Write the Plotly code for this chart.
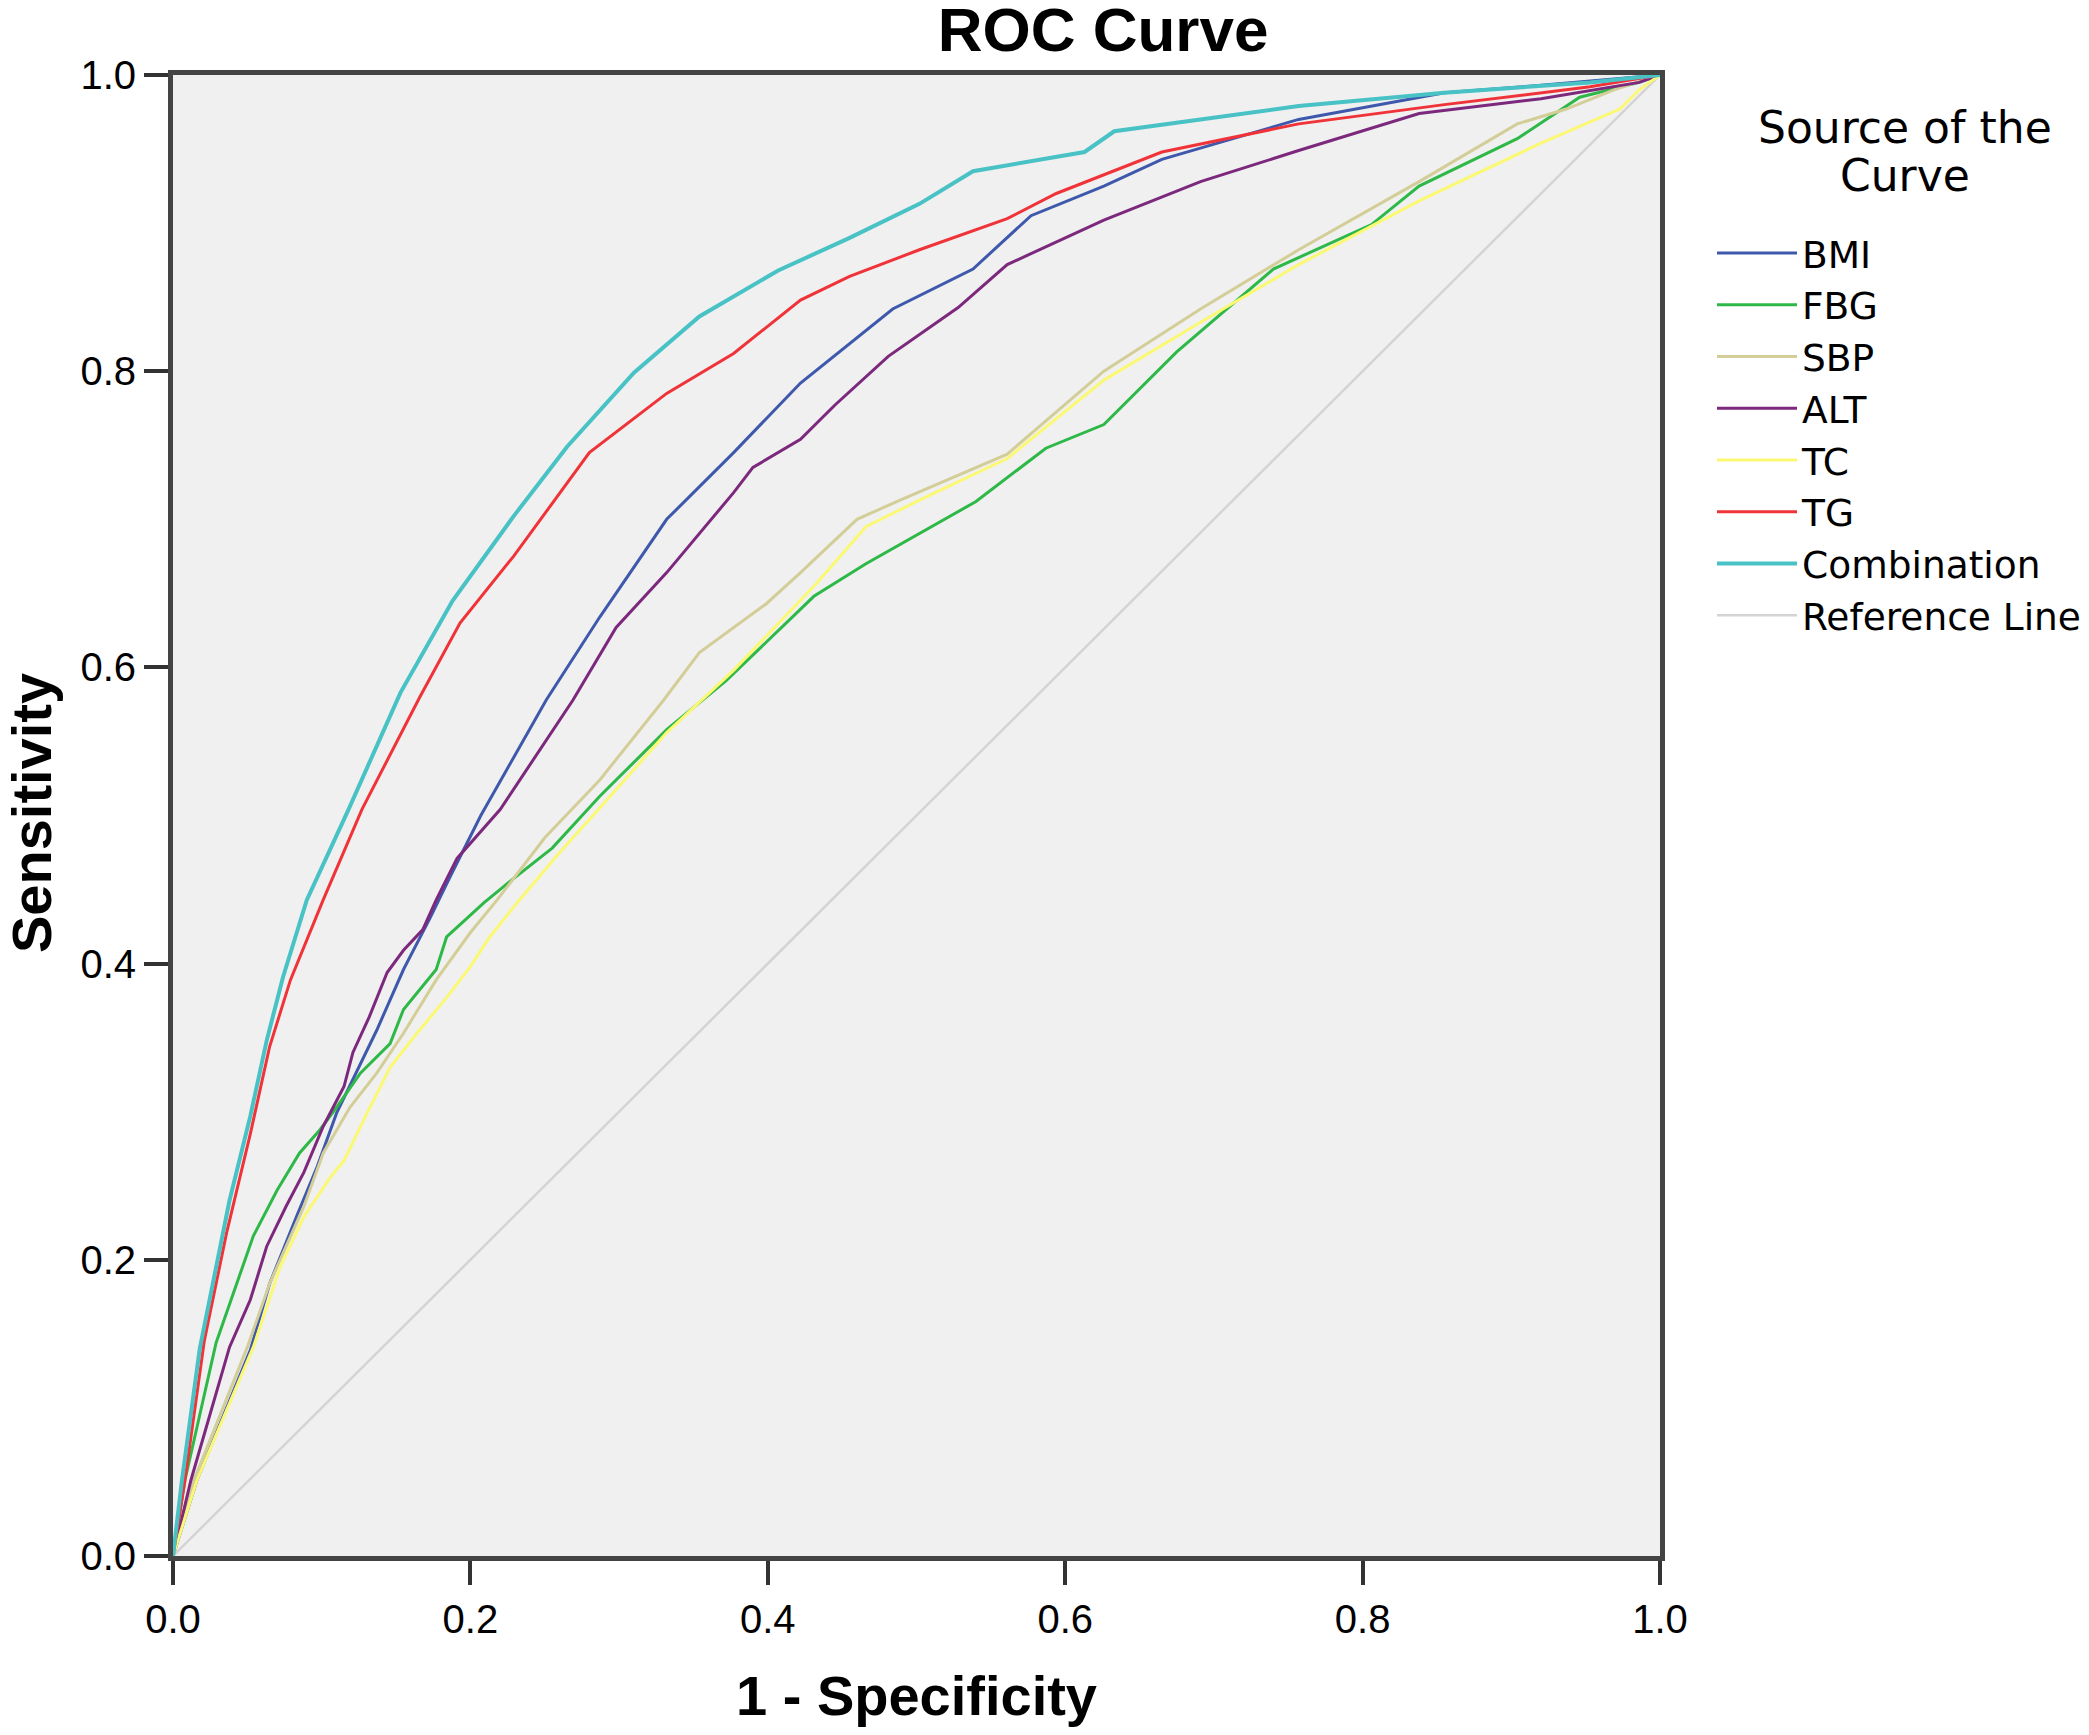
import plotly.graph_objects as go

# ROC points (1 - specificity, sensitivity)
bmi_fpr = [0, 0.016, 0.052, 0.065, 0.083, 0.097, 0.110, 0.124, 0.137, 0.155, 0.173, 0.187, 0.207,
           0.251, 0.287, 0.332, 0.377, 0.422, 0.484, 0.538, 0.577, 0.626, 0.665, 0.757, 0.855, 0.920, 1.0]
bmi_tpr = [0, 0.051, 0.139, 0.184, 0.229, 0.263, 0.299, 0.328, 0.355, 0.396, 0.431, 0.460, 0.500,
           0.578, 0.634, 0.700, 0.745, 0.792, 0.842, 0.869, 0.905, 0.925, 0.943, 0.970, 0.988, 0.993, 1.0]

fbg_fpr = [0, 0.008, 0.029, 0.043, 0.054, 0.070, 0.085, 0.099, 0.110, 0.126, 0.146, 0.155, 0.177,
           0.184, 0.209, 0.226, 0.255, 0.287, 0.332, 0.372, 0.431, 0.466, 0.540, 0.587, 0.626, 0.675,
           0.740, 0.806, 0.838, 0.904, 0.946, 0.986, 1.0]
fbg_tpr = [0, 0.051, 0.144, 0.184, 0.216, 0.247, 0.272, 0.288, 0.303, 0.326, 0.346, 0.369, 0.396,
           0.418, 0.441, 0.455, 0.478, 0.513, 0.558, 0.591, 0.648, 0.670, 0.712, 0.748, 0.764, 0.813,
           0.869, 0.899, 0.925, 0.957, 0.985, 0.995, 1.0]

sbp_fpr = [0, 0.014, 0.050, 0.065, 0.088, 0.101, 0.119, 0.137, 0.155, 0.177, 0.200, 0.218, 0.250,
           0.287, 0.330, 0.354, 0.399, 0.422, 0.460, 0.489, 0.561, 0.626, 0.691, 0.757, 0.838, 0.904,
           0.937, 0.969, 1.0]
sbp_tpr = [0, 0.051, 0.141, 0.184, 0.236, 0.272, 0.303, 0.326, 0.353, 0.389, 0.421, 0.443, 0.485,
           0.524, 0.578, 0.610, 0.643, 0.664, 0.700, 0.713, 0.744, 0.800, 0.842, 0.882, 0.928, 0.967,
           0.977, 0.990, 1.0]

alt_fpr = [0, 0.012, 0.038, 0.052, 0.063, 0.076, 0.088, 0.101, 0.115, 0.121, 0.132, 0.144, 0.155,
           0.168, 0.177, 0.191, 0.220, 0.269, 0.298, 0.332, 0.377, 0.390, 0.422, 0.445, 0.481, 0.528,
           0.561, 0.626, 0.691, 0.757, 0.838, 0.920, 0.986, 1.0]
alt_tpr = [0, 0.051, 0.141, 0.173, 0.209, 0.236, 0.259, 0.290, 0.317, 0.340, 0.364, 0.394, 0.409,
           0.423, 0.443, 0.471, 0.504, 0.578, 0.627, 0.664, 0.718, 0.735, 0.754, 0.777, 0.810, 0.843,
           0.872, 0.902, 0.928, 0.949, 0.974, 0.984, 0.995, 1.0]

tc_fpr = [0, 0.016, 0.054, 0.072, 0.088, 0.106, 0.115, 0.128, 0.146, 0.164, 0.184, 0.200, 0.213,
          0.233, 0.260, 0.287, 0.332, 0.377, 0.433, 0.466, 0.502, 0.561, 0.626, 0.691, 0.757, 0.838,
          0.920, 0.973, 0.986, 1.0]
tc_tpr = [0, 0.051, 0.141, 0.195, 0.229, 0.256, 0.267, 0.294, 0.330, 0.353, 0.377, 0.398, 0.418,
          0.443, 0.475, 0.505, 0.556, 0.598, 0.657, 0.695, 0.713, 0.741, 0.794, 0.833, 0.872, 0.915,
          0.954, 0.977, 0.990, 1.0]

tg_fpr = [0, 0.008, 0.021, 0.036, 0.052, 0.065, 0.079, 0.101, 0.127, 0.166, 0.193, 0.229, 0.280,
          0.332, 0.377, 0.422, 0.455, 0.502, 0.561, 0.594, 0.665, 0.757, 0.855, 0.953, 1.0]
tg_tpr = [0, 0.051, 0.145, 0.218, 0.285, 0.344, 0.389, 0.443, 0.504, 0.580, 0.630, 0.675, 0.745,
          0.785, 0.812, 0.848, 0.864, 0.882, 0.903, 0.920, 0.948, 0.967, 0.980, 0.992, 1.0]

comb_fpr = [0, 0.006, 0.018, 0.029, 0.038, 0.052, 0.063, 0.074, 0.090, 0.118, 0.153, 0.188, 0.229,
            0.265, 0.310, 0.354, 0.407, 0.455, 0.502, 0.538, 0.613, 0.633, 0.757, 0.855, 0.953, 1.0]
comb_tpr = [0, 0.051, 0.140, 0.195, 0.240, 0.297, 0.348, 0.391, 0.443, 0.504, 0.583, 0.645, 0.702,
            0.749, 0.799, 0.837, 0.868, 0.890, 0.913, 0.935, 0.948, 0.962, 0.979, 0.988, 0.995, 1.0]

ref_x = [0, 1]
ref_y = [0, 1]

tick_vals = [0.0, 0.2, 0.4, 0.6, 0.8, 1.0]
tick_text = ["0.0", "0.2", "0.4", "0.6", "0.8", "1.0"]

legend_title = ["Source of the", "Curve"]

series = [
    ("BMI", bmi_fpr, bmi_tpr, "#3E58AC"),
    ("FBG", fbg_fpr, fbg_tpr, "#2EB848"),
    ("SBP", sbp_fpr, sbp_tpr, "#D3CE97"),
    ("ALT", alt_fpr, alt_tpr, "#7C287D"),
    ("TC", tc_fpr, tc_tpr, "#FBF873"),
    ("TG", tg_fpr, tg_tpr, "#EF3338"),
    ("Combination", comb_fpr, comb_tpr, "#48C2C5"),
]

# page body has an 8px margin, so the figure is a bit smaller than the window
W, H = 2073, 1719
L, R, T, B = 165, 421, 67, 171
plot_w = W - L - R
plot_h = H - T - B

fig = go.Figure()

fig.add_trace(go.Scatter(
    x=ref_x, y=ref_y, mode="lines", name="Reference Line",
    line=dict(color="#D4D4D4", width=2.5), legendrank=1100,
))

for i, (name, xs, ys, color) in enumerate(series):
    fig.add_trace(go.Scatter(
        x=xs, y=ys, mode="lines", name=name,
        line=dict(color=color, width=4 if name == "Combination" else 3),
        legendrank=1000 + i,
    ))

axis_common = dict(
    range=[0, 1],
    tickvals=tick_vals,
    ticktext=tick_text,
    showgrid=False,
    zeroline=False,
    showline=True,
    linecolor="#444444",
    linewidth=5,
    mirror=True,
    ticks="outside",
    ticklen=24,
    tickwidth=4,
    tickcolor="#333333",
    tickfont=dict(family="Liberation Sans", size=40, color="black"),
)

fig.update_xaxes(
    **axis_common,
    title=dict(text="<b>1 - Specificity</b>", standoff=44,
               font=dict(family="Liberation Sans", size=56, color="black")),
)
fig.update_yaxes(**axis_common)

# y title sits close to the left edge in the reference, so place it by hand
fig.add_annotation(
    text="<b>Sensitivity</b>", showarrow=False, textangle=-90,
    xref="paper", yref="paper",
    x=(24 - L) / plot_w, y=(H - B - 805) / plot_h,
    xanchor="center", yanchor="middle",
    font=dict(family="Liberation Sans", size=56, color="black"),
)

# legend heading, one annotation per line
for txt, fy in zip(legend_title, [119, 168]):
    fig.add_annotation(
        text=txt, showarrow=False,
        xref="paper", yref="paper",
        x=(1897 - L) / plot_w, y=(H - B - fy) / plot_h,
        xanchor="center", yanchor="middle",
        font=dict(family="DejaVu Sans", size=44, color="black"),
    )

fig.update_layout(
    width=W,
    height=H,
    margin=dict(l=L, r=R, t=T, b=B, autoexpand=False),
    paper_bgcolor="white",
    plot_bgcolor="#F0F0F0",
    title=dict(text="<b>ROC Curve</b>", x=1095 / W, xref="container", xanchor="center",
               y=1 - 21 / H, yref="container", yanchor="middle",
               font=dict(family="Liberation Sans", size=62, color="black")),
    legend=dict(
        font=dict(family="DejaVu Sans", size=37.5, color="black"),
        xref="container", yref="container",
        x=1704 / W, y=1 - 214 / H,
        xanchor="left", yanchor="top",
        bgcolor="rgba(0,0,0,0)",
        itemwidth=80,
        tracegroupgap=0,
    ),
    showlegend=True,
)

fig.write_html("out.html")
